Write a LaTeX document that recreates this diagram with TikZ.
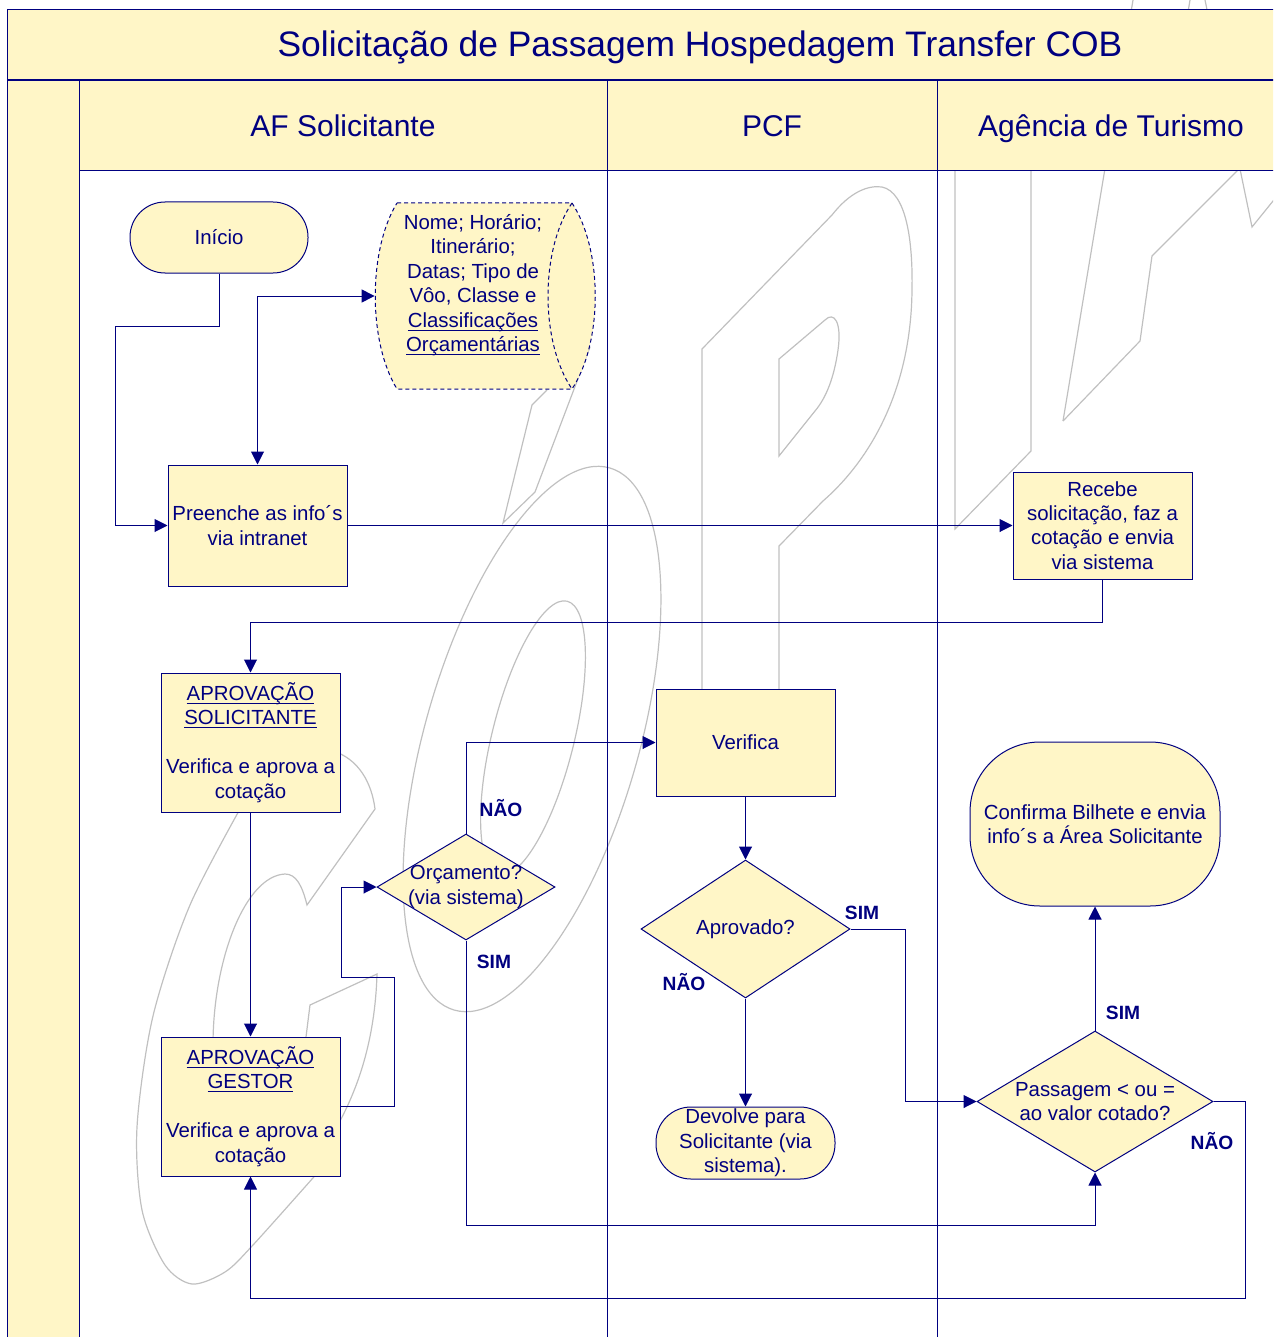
\documentclass[tikz,border=0pt]{standalone}
\usepackage{fontspec}
\setmainfont{Liberation Sans}
\usepackage{tikz}
\usetikzlibrary{shapes.geometric,arrows.meta}
\definecolor{navy}{RGB}{0,0,128}
\definecolor{lanefill}{RGB}{255,246,199}
\definecolor{wmgray}{RGB}{192,192,192}
\newcommand{\ulin}[1]{\underline{\raisebox{0pt}[\height][0pt]{#1}}}

\begin{document}
\begin{tikzpicture}[
    x=0.5pt, y=-0.5pt,
    txt/.style={text=navy, align=center, inner sep=0pt, font=\fontsize{10.2}{12.2}\selectfont},
    box/.style={txt, draw=navy, fill=lanefill, line width=0.5pt},
    proc/.style={box, minimum width=89.5pt},
    term/.style={box, rounded corners=17.5pt, minimum width=89.5pt, minimum height=36pt},
    decision/.style={diamond, draw=navy, fill=lanefill, line width=0.5pt, inner sep=0pt},
    lbl/.style={text=navy, inner sep=0pt, font=\bfseries\fontsize{9.6}{11}\selectfont},
    lanetxt/.style={text=navy, inner sep=0pt, anchor=base, font=\fontsize{15}{18}\selectfont},
    arrow/.style={-{Triangle[length=6.5pt,width=6.5pt]}, navy, line width=0.5pt},
    wm/.style={wmgray, line width=0.6pt}
  ]
    \useasboundingbox (0,0) rectangle (1273,1337);
    \clip (0,0) rectangle (1273,1337);

    \draw[wm] (1063,421) -- (1133,0);
    \draw[wm] (1063,421) -- (1140,341) -- (1152,256) -- (1245,163);
    \draw[wm] (1205,0) -- (1252,227) -- (1290,180);
    \draw[wm] (1190,0) -- (1180,60);
    \draw[wm] (955,100) -- (955,529) -- (1031,451) -- (1031,100);
    \draw[wm] (702,700) -- (702,349) -- (832,215)
        .. controls (850,192) and (868,185) .. (882,187)
        .. controls (906,192) and (913,240) .. (912,290)
        .. controls (911,390) and (870,460) .. (823,501) -- (779,546) -- (779,700);
    \draw[wm] (779,456) -- (779,359) -- (825,320)
        .. controls (834,311) and (842,322) .. (838,350)
        .. controls (834,378) and (826,398) .. (815,411) -- cycle;
    \draw[wm, rotate around={74:(532,739)}] (532,739) ellipse [x radius=282, y radius=107];
    \draw[wm, rotate around={76:(533,738)}] (533,738) ellipse [x radius=141, y radius=41];
    \draw[wm] (547,390) -- (532,405) -- (503,523) -- (535,492) -- (590,347);
    \draw[wm] (330,750) .. controls (360,758) and (372,785) .. (375,809) -- (307,905)
        .. controls (302,885) and (296,874) .. (285,874)
        .. controls (245,876) and (213,960) .. (213,1045);
    \draw[wm] (305,1045) -- (310,1005) -- (377,974)
        .. controls (375,1040) and (358,1090) .. (335,1130);
    \draw[wm] plot[smooth] coordinates {(245,800) (190,905) (153,1016) (137,1127) (142,1210)
        (165,1265) (192,1284) (225,1272) (253,1245) (320,1170)};

    \fill[lanefill] (7,10) rectangle (1290,80);
    \fill[lanefill] (7,80) rectangle (79,1340);
    \fill[lanefill] (79,80) rectangle (1290,171);
    \draw[navy, line width=0.5pt] (1290,10) -- (7,10) -- (7,1340);
    \draw[navy, line width=0.8pt] (7,80) -- (1290,80);
    \draw[navy, line width=0.5pt] (79,80) -- (79,1340);
    \draw[navy, line width=0.5pt] (79,171) -- (1290,171);
    \draw[navy, line width=0.5pt] (607,80) -- (607,1340);
    \draw[navy, line width=0.5pt] (937,80) -- (937,1340);

    \node[text=navy, inner sep=0pt, anchor=base, font=\fontsize{17.7}{20}\selectfont] (title) at (700,57) {Solicitação de Passagem Hospedagem Transfer COB};
    \node[lanetxt] (laneaf) at (343,137) {AF Solicitante};
    \node[lanetxt] (lanepcf) at (772,137) {PCF};
    \node[lanetxt] (laneag) at (1111,137) {Agência de Turismo};

    \node[term, minimum width=89pt, minimum height=35.5pt] (inicio) at (219,237.5) {Início};
    \node[minimum width=110pt, minimum height=93pt, inner sep=0pt] (nome) at (485,296) {};
    \draw[navy, fill=lanefill, line width=0.5pt, dash pattern=on 2pt off 1.5pt]
        (397,203) -- (572,203) .. controls (603,250) and (603,342) .. (572,389)
        -- (397,389) .. controls (368,342) and (368,250) .. (397,203) -- cycle;
    \draw[navy, line width=0.5pt, dash pattern=on 2pt off 1.5pt]
        (572,203) .. controls (540,250) and (540,342) .. (572,389);
    \node[txt] (nometxt) at (473,285) {Nome; Horário;\\Itinerário;\\Datas; Tipo de\\Vôo, Classe e\\\ulin{Classificações}\\\ulin{Orçamentárias}};
    \node[proc, minimum height=60.5pt] (preenche) at (257.5,525.5) {Preenche as info´s\\via intranet};
    \node[proc, minimum height=53.5pt] (recebe) at (1102.5,525.5) {Recebe\\solicitação, faz a\\cotação e envia\\via sistema};
    \node[proc, minimum height=69.5pt] (aprovsol) at (250.5,742.5) {\ulin{APROVAÇÃO}\\\ulin{SOLICITANTE}\\[12.2pt]Verifica e aprova a\\cotação};
    \node[proc, minimum height=69.5pt] (gestor) at (250.5,1106.5) {\ulin{APROVAÇÃO}\\\ulin{GESTOR}\\[12.2pt]Verifica e aprova a\\cotação};
    \node[decision, minimum width=89pt, minimum height=53pt,
          label={[txt]center:Orçamento?\\(via sistema)}] (orc) at (466,887) {};
    \node[proc, minimum height=53.5pt] (verifica) at (745.5,742.5) {Verifica};
    \node[decision, minimum width=104.5pt, minimum height=69pt,
          label={[txt]center:Aprovado?}] (aprovado) at (745.5,929) {};
    \node[term] (devolve) at (745.5,1143) {Devolve para\\Solicitante (via\\sistema).};
    \node[box, rounded corners=35pt, minimum width=125pt, minimum height=82pt] (confirma) at (1095,824) {Confirma Bilhete e envia\\info´s a Área Solicitante};
    \node[decision, minimum width=118pt, minimum height=70.5pt,
          label={[txt]center:Passagem < ou =\\ao valor cotado?}] (passagem) at (1095,1101.5) {};

    \coordinate (c1) at (115,326);
    \coordinate (c2) at (250.5,622);
    \coordinate (c3) at (394,977);
    \coordinate (c4) at (341,977);
    \coordinate (c5) at (466,1225);
    \coordinate (c6) at (905,929);
    \coordinate (c7) at (1245,1298);

    \draw[arrow] (inicio.south) |- (c1) |- (preenche.west);
    \draw[arrow, {Triangle[length=6.5pt,width=6.5pt]}-{Triangle[length=6.5pt,width=6.5pt]}] (nome.west) -| (preenche.north);
    \draw[arrow] (preenche.east) -- (recebe.west);
    \draw[arrow] (recebe.south) |- (c2) -- (aprovsol.north);
    \draw[arrow] (aprovsol.south) -- (gestor.north);
    \draw[arrow] (gestor.east) -| (c3) -- (c4) |- (orc.west);
    \draw[arrow] (orc.north) |- (verifica.west);
    \draw[arrow] (orc.south) -- (c5) -| (passagem.south);
    \draw[arrow] (verifica.south) -- (aprovado.north);
    \draw[arrow] (aprovado.south) -- (devolve.north);
    \draw[arrow] (aprovado.east) -- (c6) |- (passagem.west);
    \draw[arrow] (passagem.north) -- (confirma.south);
    \draw[arrow] (passagem.east) -| (c7) -| (gestor.south);

    \node[lbl] (nao1) at (501,808) {NÃO};
    \node[lbl] (sim1) at (494,962) {SIM};
    \node[lbl] (sim2) at (862,913) {SIM};
    \node[lbl] (nao2) at (684,982) {NÃO};
    \node[lbl] (sim3) at (1123,1013) {SIM};
    \node[lbl] (nao3) at (1212,1141) {NÃO};
  \end{tikzpicture}
\end{document}
